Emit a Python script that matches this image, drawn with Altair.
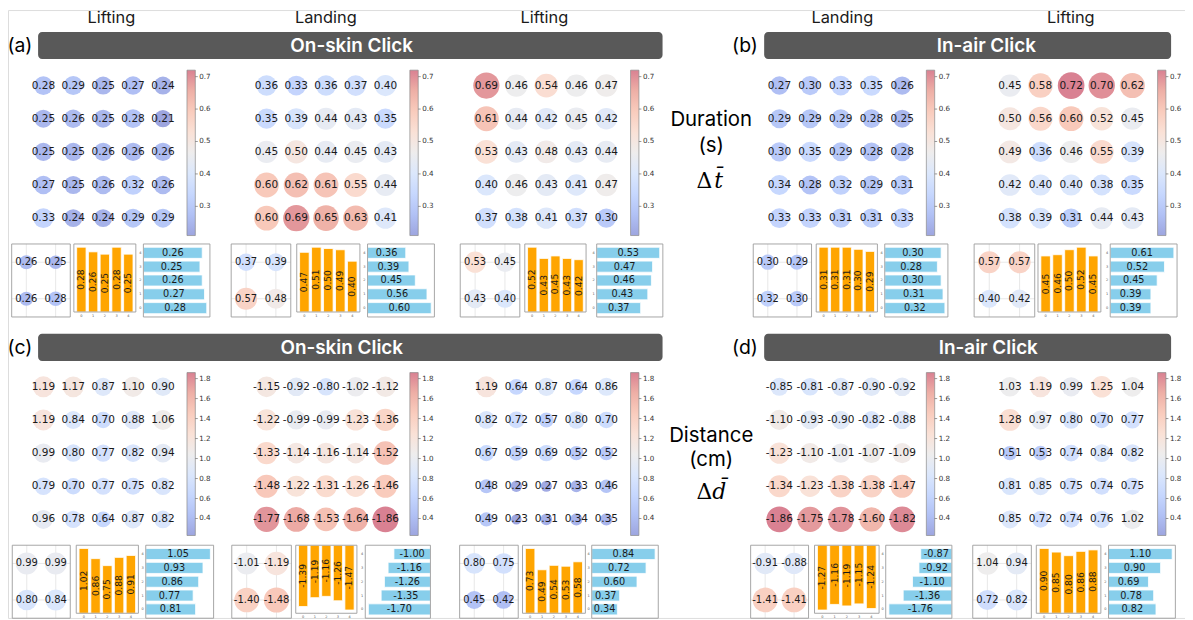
import altair as alt
import pandas as pd

# ------------------------------------------------------------------ data
COLUMN_LABELS = ["Lifting", "Landing", "Lifting", "Landing", "Lifting"]
GROUP_TITLES = ["On-skin Click", "In-air Click"]
PANEL_LETTERS = [["(a)", "(b)"], ["(c)", "(d)"]]
ROW_NAMES = [["Duration", "(s)"], ["Distance", "(cm)"]]
ROW_SYMBOLS = ["t\u0304", "d\u0304"]

# Duration (s): 5x5 grids, rows top -> bottom
DUR_GRIDS = [
    [[0.28, 0.29, 0.25, 0.27, 0.24],
     [0.25, 0.26, 0.25, 0.28, 0.21],
     [0.25, 0.25, 0.26, 0.26, 0.26],
     [0.27, 0.25, 0.26, 0.32, 0.26],
     [0.33, 0.24, 0.24, 0.29, 0.29]],
    [[0.36, 0.33, 0.36, 0.37, 0.40],
     [0.35, 0.39, 0.44, 0.43, 0.35],
     [0.45, 0.50, 0.44, 0.45, 0.43],
     [0.60, 0.62, 0.61, 0.55, 0.44],
     [0.60, 0.69, 0.65, 0.63, 0.41]],
    [[0.69, 0.46, 0.54, 0.46, 0.47],
     [0.61, 0.44, 0.42, 0.45, 0.42],
     [0.53, 0.43, 0.48, 0.43, 0.44],
     [0.40, 0.46, 0.43, 0.41, 0.47],
     [0.37, 0.38, 0.41, 0.37, 0.30]],
    [[0.27, 0.30, 0.33, 0.35, 0.26],
     [0.29, 0.29, 0.29, 0.28, 0.25],
     [0.30, 0.35, 0.29, 0.28, 0.28],
     [0.34, 0.28, 0.32, 0.29, 0.31],
     [0.33, 0.33, 0.31, 0.31, 0.33]],
    [[0.45, 0.58, 0.72, 0.70, 0.62],
     [0.50, 0.56, 0.60, 0.52, 0.45],
     [0.49, 0.36, 0.46, 0.55, 0.39],
     [0.42, 0.40, 0.40, 0.38, 0.35],
     [0.38, 0.39, 0.31, 0.44, 0.43]],
]
DUR_QUADS = [
    [[0.26, 0.25], [0.26, 0.28]],
    [[0.37, 0.39], [0.57, 0.48]],
    [[0.53, 0.45], [0.43, 0.40]],
    [[0.30, 0.29], [0.32, 0.30]],
    [[0.57, 0.57], [0.40, 0.42]],
]
DUR_COL_BARS = [  # orange, index 0..4
    [0.28, 0.26, 0.25, 0.28, 0.25],
    [0.47, 0.51, 0.50, 0.49, 0.40],
    [0.52, 0.43, 0.45, 0.43, 0.42],
    [0.31, 0.31, 0.31, 0.30, 0.29],
    [0.45, 0.46, 0.50, 0.52, 0.45],
]
DUR_ROW_BARS = [  # blue, index 0..4 (0 at bottom)
    [0.28, 0.27, 0.26, 0.25, 0.26],
    [0.60, 0.56, 0.45, 0.39, 0.36],
    [0.37, 0.43, 0.46, 0.47, 0.53],
    [0.32, 0.31, 0.30, 0.28, 0.30],
    [0.39, 0.39, 0.45, 0.52, 0.61],
]
DUR_RANGE = [0.21, 0.72]
DUR_TICKS = [0.3, 0.4, 0.5, 0.6, 0.7]

# Distance (cm)
DIST_GRIDS = [
    [[1.19, 1.17, 0.87, 1.10, 0.90],
     [1.19, 0.84, 0.70, 0.88, 1.06],
     [0.99, 0.80, 0.77, 0.82, 0.94],
     [0.79, 0.70, 0.77, 0.75, 0.82],
     [0.96, 0.78, 0.64, 0.87, 0.82]],
    [[-1.15, -0.92, -0.80, -1.02, -1.12],
     [-1.22, -0.99, -0.99, -1.23, -1.36],
     [-1.33, -1.14, -1.16, -1.14, -1.52],
     [-1.48, -1.22, -1.31, -1.26, -1.46],
     [-1.77, -1.68, -1.53, -1.64, -1.86]],
    [[1.19, 0.64, 0.87, 0.64, 0.86],
     [0.82, 0.72, 0.57, 0.80, 0.70],
     [0.67, 0.59, 0.69, 0.52, 0.52],
     [0.48, 0.29, 0.27, 0.33, 0.46],
     [0.49, 0.23, 0.31, 0.34, 0.35]],
    [[-0.85, -0.81, -0.87, -0.90, -0.92],
     [-1.10, -0.93, -0.90, -0.82, -0.88],
     [-1.23, -1.10, -1.01, -1.07, -1.09],
     [-1.34, -1.23, -1.38, -1.38, -1.47],
     [-1.86, -1.75, -1.78, -1.60, -1.82]],
    [[1.03, 1.19, 0.99, 1.25, 1.04],
     [1.28, 0.97, 0.80, 0.70, 0.77],
     [0.51, 0.53, 0.74, 0.84, 0.82],
     [0.81, 0.85, 0.75, 0.74, 0.75],
     [0.85, 0.72, 0.74, 0.76, 1.02]],
]
DIST_QUADS = [
    [[0.99, 0.99], [0.80, 0.84]],
    [[-1.01, -1.19], [-1.40, -1.48]],
    [[0.80, 0.75], [0.45, 0.42]],
    [[-0.91, -0.88], [-1.41, -1.41]],
    [[1.04, 0.94], [0.72, 0.82]],
]
DIST_COL_BARS = [
    [1.02, 0.86, 0.75, 0.88, 0.91],
    [-1.39, -1.19, -1.16, -1.26, -1.47],
    [0.73, 0.49, 0.54, 0.53, 0.58],
    [-1.27, -1.16, -1.19, -1.15, -1.24],
    [0.90, 0.85, 0.80, 0.86, 0.88],
]
DIST_ROW_BARS = [
    [0.81, 0.77, 0.86, 0.93, 1.05],
    [-1.70, -1.35, -1.26, -1.16, -1.00],
    [0.34, 0.37, 0.60, 0.72, 0.84],
    [-1.76, -1.36, -1.10, -0.92, -0.87],
    [0.82, 0.78, 0.69, 0.90, 1.10],
]
DIST_RANGE = [0.23, 1.86]
DIST_TICKS = [0.4, 0.6, 0.8, 1.0, 1.2, 1.4, 1.6, 1.8]

# ------------------------------------------------------------------ style / layout
OFF = 8.0                       # page margin: reference px -> chart px
W, H = 1185, 612
COOLWARM = ["#9da5df", "#b1c1f5", "#c6d7fe", "#dbe7fc", "#eeeded",
            "#fae1d6", "#f9ccbd", "#eeafa6", "#d98192"]
NUM_FONT = "DejaVu Sans"
UI_FONT = "Inter"

ROW_SHIFT = [0.0, 303.3]
GRID_X = [(43.6, 164.0), (268.3, 388.0), (489.6, 610.4), (784.6, 908.3), (1016.7, 1140.0)]
GRID_Y = (84.0, 217.5)
CBAR_X = [(188.2, 196.6), (412.6, 421.0), (634.8, 643.2), (932.6, 941.0), (1165.4, 1173.8)]
CBAR_Y = [(68.5, 235.0), (373.0, 537.0)]
QUAD_X = [[(11.7, 70.7), (232.7, 292.7), (463.3, 523.3), (758.3, 817.0), (980.7, 1041.7)],
          [(12.3, 70.7), (233.3, 293.3), (462.7, 521.7), (755.7, 814.0), (979.3, 1038.3)]]
VBAR_X = [[(74.3, 136.7), (298.7, 362.3), (528.3, 590.0), (821.7, 883.3), (1045.0, 1108.3)],
          [(76.7, 139.3), (297.7, 359.3), (526.0, 589.3), (820.0, 885.0), (1043.3, 1108.3)]]
HBAR_X = [[(144.3, 211.3), (370.0, 437.3), (600.7, 667.3), (890.7, 954.3), (1117.7, 1185.0)],
          [(146.7, 215.0), (367.7, 433.3), (595.7, 662.7), (891.7, 958.3), (1116.0, 1183.3)]]
SMALL_TOP = 243.5
QUAD_H, VBAR_H, HBAR_H = 73.5, 68.5, 73.5
SIZE_MAIN = [[300, 720], [110, 680]]
SIZE_QUAD = [[150, 640], [260, 760]]
FRAME = "#9c9c9c"


def lin(domain, rng):
    return alt.Scale(domain=[float(d) for d in domain],
                     range=[float(r) - OFF for r in rng], nice=False, zero=False)


PX = lin([0, 1200], [0, 1200])       # reference-pixel layout scale


def cscale(vr):
    lo, hi = vr
    dom = [lo + (hi - lo) * k / 8 for k in range(9)]
    return alt.Scale(domain=dom, range=COOLWARM, interpolate="rgb")


def grid_frame(grid):
    recs = []
    for r, vals in enumerate(grid):
        for c, v in enumerate(vals):
            recs.append({"r": r, "c": c, "v": v, "label": f"{v:.2f}"})
    return pd.DataFrame(recs)


GRAD = alt.LinearGradient(
    gradient="linear", x1=0, x2=0, y1=1, y2=0,
    stops=[alt.GradientStop(offset=k / 8, color=c) for k, c in enumerate(COOLWARM)])

ROWS = [
    dict(grids=DUR_GRIDS, quads=DUR_QUADS, cols=DUR_COL_BARS, rows=DUR_ROW_BARS,
         vr=DUR_RANGE, ticks=DUR_TICKS),
    dict(grids=DIST_GRIDS, quads=DIST_QUADS, cols=DIST_COL_BARS, rows=DIST_ROW_BARS,
         vr=DIST_RANGE, ticks=DIST_TICKS),
]

layers = []
frames = []

for ri, R in enumerate(ROWS):
    dy = ROW_SHIFT[ri]
    vr = R["vr"]
    cs = cscale(vr)
    for p in range(5):
        # ---------------- main bubble grid
        xs = lin([0, 4], GRID_X[p])
        ys = lin([0, 4], (GRID_Y[0] + dy, GRID_Y[1] + dy))
        base = alt.Chart(grid_frame(R["grids"][p])).transform_calculate(mag="abs(datum.v)")
        layers.append(base.mark_circle(opacity=1).encode(
            x=alt.X("c:Q", scale=xs, axis=None),
            y=alt.Y("r:Q", scale=ys, axis=None),
            color=alt.Color("mag:Q", scale=cs, legend=None),
            size=alt.Size("mag:Q", scale=alt.Scale(domain=vr, range=SIZE_MAIN[ri], zero=False),
                          legend=None)))
        layers.append(base.mark_text(font=NUM_FONT, fontSize=10.6, color="#1a1a1a").encode(
            x=alt.X("c:Q", scale=xs, axis=None),
            y=alt.Y("r:Q", scale=ys, axis=None),
            text="label:N"))

        # ---------------- colour bar
        cx0, cx1 = CBAR_X[p]
        cys = lin(vr, (CBAR_Y[ri][1], CBAR_Y[ri][0]))
        cb = alt.Chart(pd.DataFrame({"lo": [vr[0]], "hi": [vr[1]]}))
        layers.append(cb.mark_rect(fill=GRAD, stroke="#8a8a8a", strokeWidth=0.7).encode(
            x=alt.value(cx0 - OFF), x2=alt.value(cx1 - OFF),
            y=alt.Y("lo:Q", scale=cys, axis=None), y2="hi"))
        tdf = pd.DataFrame({"t": R["ticks"], "label": [f"{t:.1f}" for t in R["ticks"]]})
        layers.append(alt.Chart(tdf).mark_rule(color="#555", strokeWidth=0.6).encode(
            y=alt.Y("t:Q", scale=cys, axis=None),
            x=alt.value(cx1 - OFF), x2=alt.value(cx1 - OFF + 2.5)))
        layers.append(alt.Chart(tdf).mark_text(
            font=NUM_FONT, fontSize=7.2, color="#333", align="left", baseline="middle").encode(
            y=alt.Y("t:Q", scale=cys, axis=None),
            x=alt.value(cx1 - OFF + 4), text="label:N"))

        top = SMALL_TOP + dy

        # ---------------- 2x2 quadrant summary
        qx = QUAD_X[ri][p]
        frames.append({"x0": qx[0], "x1": qx[1], "y0": top, "y1": top + QUAD_H})
        qxs = lin([-0.5, 1.5], qx)
        qys = lin([-0.5, 1.5], (top, top + QUAD_H))
        gl = alt.Chart(pd.DataFrame({"k": [0, 1]}))
        layers.append(gl.mark_rule(color="#e2e2e2", strokeWidth=0.8).encode(
            x=alt.X("k:Q", scale=qxs, axis=None),
            y=alt.value(top - OFF), y2=alt.value(top + QUAD_H - OFF)))
        layers.append(gl.mark_rule(color="#e2e2e2", strokeWidth=0.8).encode(
            y=alt.Y("k:Q", scale=qys, axis=None),
            x=alt.value(qx[0] - OFF), x2=alt.value(qx[1] - OFF)))
        qbase = alt.Chart(grid_frame(R["quads"][p])).transform_calculate(mag="abs(datum.v)")
        layers.append(qbase.mark_circle(opacity=1).encode(
            x=alt.X("c:Q", scale=qxs, axis=None),
            y=alt.Y("r:Q", scale=qys, axis=None),
            color=alt.Color("mag:Q", scale=cs, legend=None),
            size=alt.Size("mag:Q", scale=alt.Scale(domain=vr, range=SIZE_QUAD[ri], zero=False),
                          legend=None)))
        layers.append(qbase.mark_text(font=NUM_FONT, fontSize=10, color="#1a1a1a").encode(
            x=alt.X("c:Q", scale=qxs, axis=None),
            y=alt.Y("r:Q", scale=qys, axis=None),
            text="label:N"))

        # ---------------- vertical (orange) bars
        vals = R["cols"][p]
        vx = VBAR_X[ri][p]
        frames.append({"x0": vx[0], "x1": vx[1], "y0": top, "y1": top + VBAR_H})
        ydom = [0, 1.05 * max(vals)] if min(vals) >= 0 else [1.05 * min(vals), 0]
        vxs = lin([-0.64, 4.64], vx)
        vys = lin(ydom, (top + VBAR_H, top))
        vdf = pd.DataFrame({"i": list(range(5)), "v": vals, "label": [f"{v:.2f}" for v in vals]})
        vb = alt.Chart(vdf).transform_calculate(
            lo="datum.i - 0.4", hi="datum.i + 0.4", zero="0", mid="datum.v / 2")
        layers.append(vb.mark_rect(color="#FFA500", stroke="white", strokeWidth=0.8).encode(
            x=alt.X("lo:Q", scale=vxs, axis=None), x2="hi",
            y=alt.Y("v:Q", scale=vys, axis=None), y2="zero"))
        layers.append(vb.mark_text(font=NUM_FONT, fontSize=9.2, color="#1a1a1a", angle=270,
                                   baseline="middle").encode(
            x=alt.X("i:Q", scale=vxs, axis=None),
            y=alt.Y("mid:Q", scale=vys, axis=None), text="label:N"))
        layers.append(vb.mark_text(font=NUM_FONT, fontSize=3.5, color="#555",
                                   baseline="top").encode(
            x=alt.X("i:Q", scale=vxs, axis=None),
            y=alt.value(top + VBAR_H - OFF + 2), text="i:N"))

        # ---------------- horizontal (blue) bars
        vals = R["rows"][p]
        hx = HBAR_X[ri][p]
        frames.append({"x0": hx[0], "x1": hx[1], "y0": top, "y1": top + HBAR_H})
        xdom = [0, 1.05 * max(vals)] if min(vals) >= 0 else [1.05 * min(vals), 0]
        hxs = lin(xdom, hx)
        hys = lin([-0.64, 4.64], (top + HBAR_H, top))
        hdf = pd.DataFrame({"i": list(range(5)), "v": vals, "label": [f"{v:.2f}" for v in vals]})
        hb = alt.Chart(hdf).transform_calculate(
            lo="datum.i - 0.4", hi="datum.i + 0.4", zero="0", mid="datum.v / 2")
        layers.append(hb.mark_rect(color="#87CEEB", stroke="white", strokeWidth=0.8).encode(
            y=alt.Y("lo:Q", scale=hys, axis=None), y2="hi",
            x=alt.X("v:Q", scale=hxs, axis=None), x2="zero"))
        layers.append(hb.mark_text(font=NUM_FONT, fontSize=9.8, color="#1a1a1a",
                                   baseline="middle").encode(
            y=alt.Y("i:Q", scale=hys, axis=None),
            x=alt.X("mid:Q", scale=hxs, axis=None), text="label:N"))
        layers.append(hb.mark_text(font=NUM_FONT, fontSize=3.5, color="#555",
                                   align="right", baseline="middle").encode(
            y=alt.Y("i:Q", scale=hys, axis=None),
            x=alt.value(hx[0] - OFF - 2), text="i:N"))

# ---------------- frames of small charts
layers.append(alt.Chart(pd.DataFrame(frames)).mark_rect(
    fill=None, stroke=FRAME, strokeWidth=0.9).encode(
    x=alt.X("x0:Q", scale=PX, axis=None), x2="x1",
    y=alt.Y("y0:Q", scale=PX, axis=None), y2="y1"))

# ---------------- header bars and texts
bars = pd.DataFrame({
    "x0": [38.3, 769.3, 38.3, 769.3], "x1": [667.0, 1179.0, 667.0, 1179.0],
    "y0": [30.0, 30.0, 334.0, 334.0], "y1": [57.3, 57.3, 361.3, 361.3]})
layers.append(alt.Chart(bars).mark_rect(color="#595959", cornerRadius=4).encode(
    x=alt.X("x0:Q", scale=PX, axis=None), x2="x1",
    y=alt.Y("y0:Q", scale=PX, axis=None), y2="y1"))

titles = pd.DataFrame({
    "x": [354.0, 993.0, 344.0, 995.0], "y": [44.0, 44.0, 348.0, 348.0],
    "t": [GROUP_TITLES[0], GROUP_TITLES[1], GROUP_TITLES[0], GROUP_TITLES[1]]})
layers.append(alt.Chart(titles).mark_text(
    font=UI_FONT, fontSize=19, fontWeight=600, color="white", baseline="middle").encode(
    x=alt.X("x:Q", scale=PX, axis=None), y=alt.Y("y:Q", scale=PX, axis=None), text="t:N"))

letters = pd.DataFrame({
    "x": [20.0, 750.0, 20.0, 750.0], "y": [44.0, 44.0, 348.0, 348.0],
    "t": [PANEL_LETTERS[0][0], PANEL_LETTERS[0][1], PANEL_LETTERS[1][0], PANEL_LETTERS[1][1]]})
layers.append(alt.Chart(letters).mark_text(
    font=UI_FONT, fontSize=19.5, color="black", baseline="middle").encode(
    x=alt.X("x:Q", scale=PX, axis=None), y=alt.Y("y:Q", scale=PX, axis=None), text="t:N"))

collabels = pd.DataFrame({"x": [112.0, 328.0, 548.0, 848.0, 1078.0], "y": [16.0] * 5,
                          "t": COLUMN_LABELS})
layers.append(alt.Chart(collabels).mark_text(
    font=UI_FONT, fontSize=16.5, color="#1a1a1a", baseline="middle").encode(
    x=alt.X("x:Q", scale=PX, axis=None), y=alt.Y("y:Q", scale=PX, axis=None), text="t:N"))

rownames = pd.DataFrame({
    "x": [716.0, 716.0, 716.0, 716.0], "y": [119.0, 145.0, 437.0, 461.0],
    "t": [ROW_NAMES[0][0], ROW_NAMES[0][1], ROW_NAMES[1][0], ROW_NAMES[1][1]]})
layers.append(alt.Chart(rownames).mark_text(
    font=UI_FONT, fontSize=20.5, color="black", baseline="middle").encode(
    x=alt.X("x:Q", scale=PX, axis=None), y=alt.Y("y:Q", scale=PX, axis=None), text="t:N"))

deltas = pd.DataFrame({"x": [709.0, 709.0], "y": [180.0, 493.0], "t": ["\u0394", "\u0394"]})
layers.append(alt.Chart(deltas).mark_text(
    font="DejaVu Serif", fontSize=22, color="black", baseline="middle").encode(
    x=alt.X("x:Q", scale=PX, axis=None), y=alt.Y("y:Q", scale=PX, axis=None), text="t:N"))
syms = pd.DataFrame({"x": [723.5, 724.0], "y": [180.0, 493.0], "t": ROW_SYMBOLS})
layers.append(alt.Chart(syms).mark_text(
    font="DejaVu Serif", fontSize=22, fontStyle="italic", color="black",
    baseline="middle").encode(
    x=alt.X("x:Q", scale=PX, axis=None), y=alt.Y("y:Q", scale=PX, axis=None), text="t:N"))

chart = alt.layer(*layers).resolve_scale(
    x="independent", y="independent", color="independent", size="independent"
).properties(
    width=W, height=H, padding=0, autosize=alt.AutoSizeParams(type="none")
).configure_view(stroke=None).configure(background="white")

chart.save("out.html", embed_options={"renderer": "svg", "actions": False})
